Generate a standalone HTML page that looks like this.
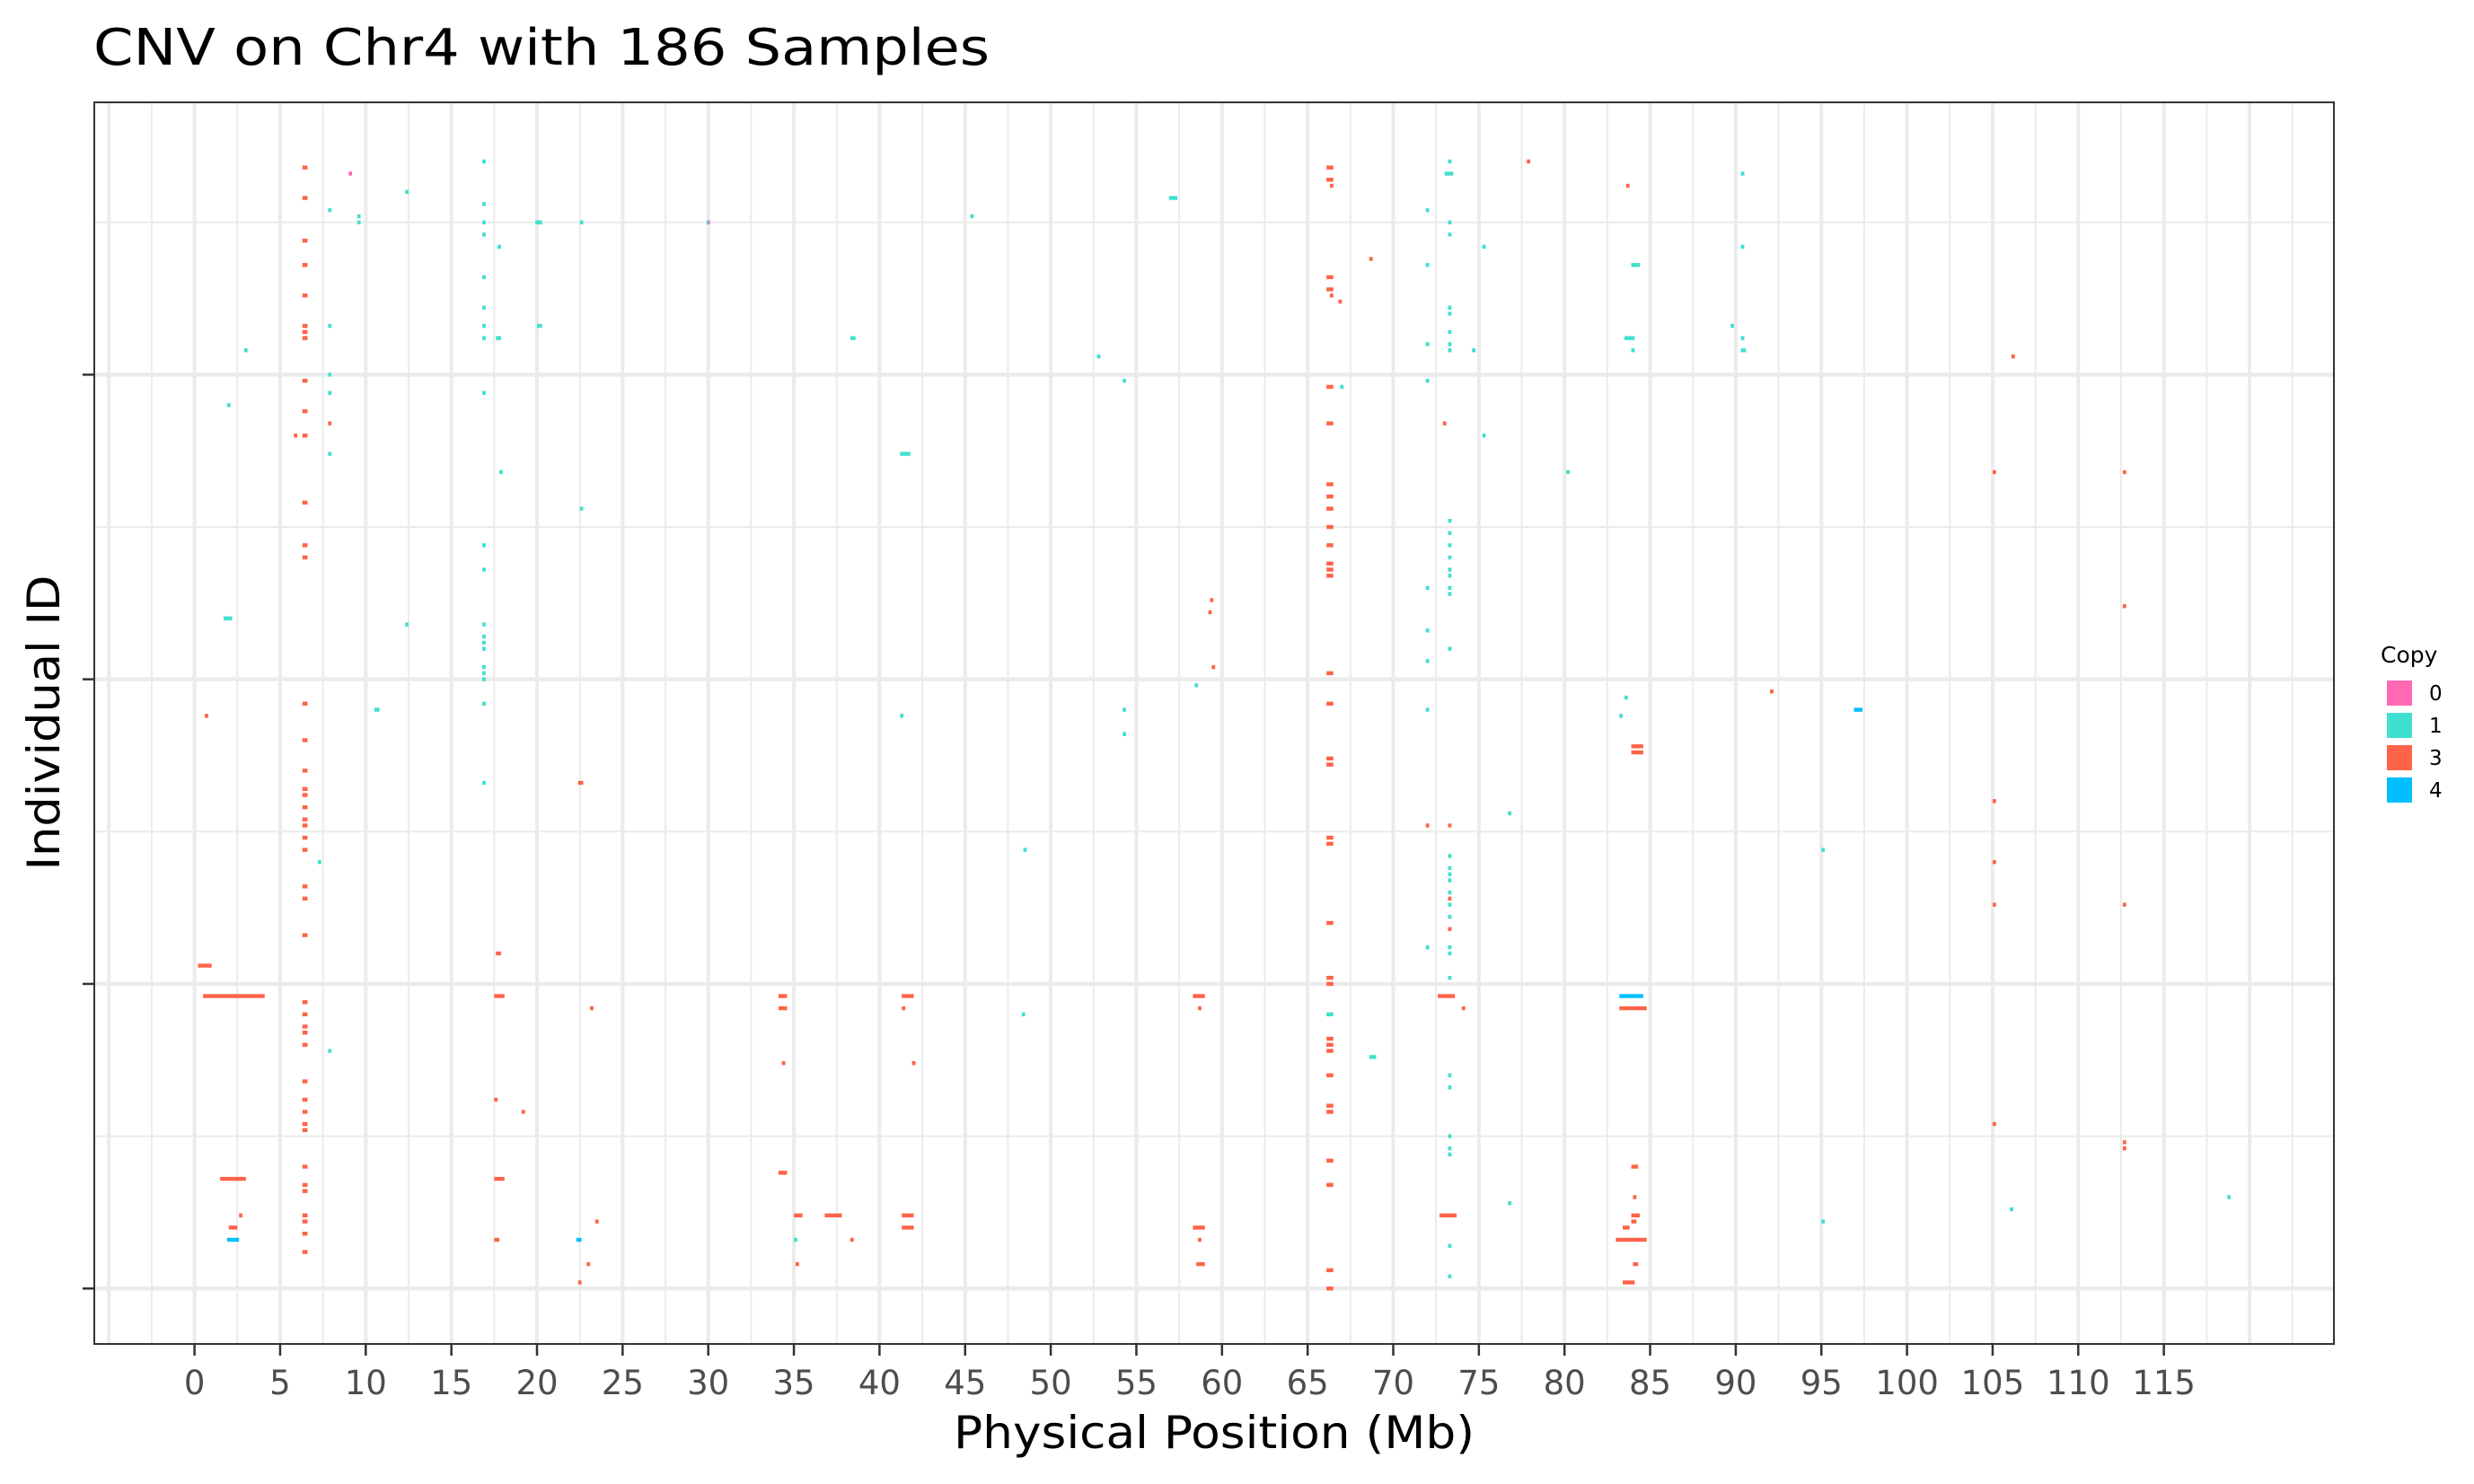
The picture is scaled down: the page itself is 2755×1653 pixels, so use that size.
<!DOCTYPE html>
<html><head><meta charset="utf-8"><title>CNV on Chr4</title>
<style>html,body{margin:0;padding:0;background:#fff;}svg{display:block;font-family:"DejaVu Sans","Liberation Sans",sans-serif;}</style>
</head><body>
<svg id="chart" width="2755" height="1653" viewBox="0 0 2755 1653" xmlns="http://www.w3.org/2000/svg">
<rect x="0" y="0" width="2755" height="1653" fill="#fff"/>
<text x="104" y="72" font-size="56" fill="#000" textLength="998" lengthAdjust="spacingAndGlyphs">CNV on Chr4 with 186 Samples</text>
<g id="grid"></g>
<g id="marks"></g>
<rect x="105" y="114" width="2494" height="1383" fill="none" stroke="#333" stroke-width="2"/>
<g id="axes"></g>
<text x="1352" y="1613" font-size="50" text-anchor="middle" fill="#000" textLength="580" lengthAdjust="spacingAndGlyphs">Physical Position (Mb)</text>
<text x="66" y="805" font-size="50" text-anchor="middle" fill="#000" textLength="329" lengthAdjust="spacingAndGlyphs" transform="rotate(-90 66 805)">Individual ID</text>
<g id="legend">
<text x="2651" y="738" font-size="25" fill="#000">Copy</text>
</g>
</svg>
<script>
const xTicks = [0,5,10,15,20,25,30,35,40,45,50,55,60,65,70,75,80,85,90,95,100,105,110,115];
const yTicks = [0,50,100,150];
const copyLevels = [0,1,3,4];
const copyLabels = ["0","1","3","4"];
// [start Mb, end Mb, individual id, copy]
const cnvSegments = [
[6.3,6.6,184,3],[6.3,6.6,179,3],[6.3,6.6,172,3],[6.3,6.6,168,3],[6.3,6.6,163,3],[6.3,6.6,158,3],[6.3,6.6,157,3],[6.3,6.6,156,3],
[6.3,6.6,149,3],[6.3,6.6,144,3],[6.3,6.6,140,3],[6.3,6.6,129,3],[6.3,6.6,122,3],[6.3,6.6,120,3],[6.3,6.6,96,3],[6.3,6.6,90,3],
[6.3,6.6,85,3],[6.3,6.6,82,3],[6.3,6.6,81,3],[6.3,6.6,79,3],[6.3,6.6,77,3],[6.3,6.6,76,3],[6.3,6.6,74,3],[6.3,6.6,72,3],
[6.3,6.6,66,3],[6.3,6.6,64,3],[6.3,6.6,58,3],[6.3,6.6,47,3],[6.3,6.6,45,3],[6.3,6.6,43,3],[6.3,6.6,42,3],[6.3,6.6,40,3],
[6.3,6.6,34,3],[6.3,6.6,31,3],[6.3,6.6,29,3],[6.3,6.6,27,3],[6.3,6.6,26,3],[6.3,6.6,20,3],[6.3,6.6,17,3],[6.3,6.6,16,3],
[6.3,6.6,12,3],[6.3,6.6,11,3],[6.3,6.6,9,3],[6.3,6.6,6,3],
[66.1,66.5,184,3],[66.1,66.5,182,3],[66.3,66.5,181,3],[66.1,66.5,166,3],[66.1,66.5,164,3],[66.3,66.5,163,3],[66.1,66.5,148,3],[66.1,66.5,142,3],
[66.1,66.5,132,3],[66.1,66.5,130,3],[66.1,66.5,128,3],[66.1,66.5,125,3],[66.1,66.5,122,3],[66.1,66.5,119,3],[66.1,66.5,118,3],[66.1,66.5,117,3],
[66.1,66.5,101,3],[66.1,66.5,96,3],[66.1,66.5,87,3],[66.1,66.5,86,3],[66.1,66.5,74,3],[66.1,66.5,73,3],[66.1,66.5,60,3],[66.1,66.5,51,3],
[66.1,66.5,50,3],[66.1,66.5,45,1],[66.1,66.5,41,3],[66.1,66.5,40,3],[66.1,66.5,39,3],[66.1,66.5,35,3],[66.1,66.5,30,3],[66.1,66.5,29,3],
[66.1,66.5,21,3],[66.1,66.5,17,3],[66.1,66.5,3,3],[66.1,66.5,0,3],
[16.8,17.0,185,1],[16.8,17.0,178,1],[16.8,17.0,175,1],[16.8,17.0,173,1],[16.8,17.0,166,1],[16.8,17.0,161,1],[16.8,17.0,158,1],[16.8,17.0,156,1],
[16.8,17.0,147,1],[16.8,17.0,122,1],[16.8,17.0,118,1],[16.8,17.0,109,1],[16.8,17.0,107,1],[16.8,17.0,106,1],[16.8,17.0,105,1],[16.8,17.0,102,1],
[16.8,17.0,101,1],[16.8,17.0,100,1],[16.8,17.0,96,1],[16.8,17.0,83,1],
[73.2,73.4,185,1],[73.0,73.5,183,1],[73.2,73.4,175,1],[73.2,73.4,173,1],[73.2,73.4,161,1],[73.2,73.4,160,1],[73.2,73.4,157,1],[73.2,73.4,155,1],
[73.2,73.4,154,1],[73.2,73.4,126,1],[73.2,73.4,124,1],[73.2,73.4,122,1],[73.2,73.4,120,1],[73.2,73.4,118,1],[73.2,73.4,117,1],[73.2,73.4,115,1],
[73.2,73.4,114,1],[73.2,73.4,105,1],[73.2,73.4,76,3],[73.2,73.4,71,1],[73.2,73.4,69,1],[73.2,73.4,68,1],[73.2,73.4,67,1],[73.2,73.4,65,1],
[73.2,73.4,64,3],[73.2,73.4,63,1],[73.2,73.4,61,1],[73.2,73.4,59,3],[73.2,73.4,56,1],[73.2,73.4,55,1],[73.2,73.4,51,1],[73.2,73.4,35,1],
[73.2,73.4,33,1],[73.2,73.4,25,1],[73.2,73.4,23,1],[73.2,73.4,22,1],[73.2,73.4,7,1],[73.2,73.4,2,1],
[71.9,72.1,177,1],[71.9,72.1,168,1],[71.9,72.1,155,1],[71.9,72.1,149,1],[71.9,72.1,115,1],[71.9,72.1,108,1],[71.9,72.1,103,1],[71.9,72.1,95,1],[71.9,72.1,56,1],[71.9,72.1,76,3],
[83.9,84.4,168,1],[83.5,84.1,156,1],[83.9,84.1,154,1],[83.6,83.8,181,3],[83.5,83.7,97,1],[83.2,83.4,94,1],[83.9,84.6,89,3],[83.9,84.6,88,3],
[83.9,84.3,20,3],[83.9,84.4,12,3],[83.9,84.2,11,3],[84.0,84.3,4,3],[83.4,84.1,1,3],[83.0,84.8,8,3],[83.4,83.8,10,3],[84.0,84.2,15,3],
[0.2,1.0,53,3],[0.5,4.1,48,3],[1.5,3.0,18,3],[2.0,2.5,10,3],[1.9,2.6,8,4],[2.6,2.8,12,3],[0.6,0.8,94,3],
[17.6,17.9,55,3],[17.5,18.1,48,3],[17.5,17.7,31,3],[17.5,18.1,18,3],[17.5,17.8,8,3],[19.1,19.3,29,3],
[22.4,22.7,83,3],[23.1,23.3,46,3],[22.4,22.6,1,3],[22.9,23.1,4,3],[23.4,23.6,11,3],[22.3,22.6,8,4],
[34.1,34.6,48,3],[34.1,34.6,46,3],[34.3,34.5,37,3],[34.1,34.6,19,3],[35.0,35.5,12,3],[35.1,35.3,4,3],[35.0,35.2,8,1],
[36.8,37.8,12,3],[38.3,38.5,8,3],
[41.3,42.0,48,3],[41.3,41.5,46,3],[41.9,42.1,37,3],[41.3,42.0,12,3],[41.3,42.0,10,3],
[58.3,59.0,48,3],[58.6,58.8,46,3],[58.3,59.0,10,3],[58.6,58.8,8,3],[58.5,59.0,4,3],[59.3,59.5,113,3],[59.2,59.4,111,3],[59.4,59.6,102,3],
[72.6,73.6,48,3],[74.0,74.2,46,3],[72.7,73.7,12,3],
[83.2,84.6,48,4],[83.2,84.8,46,3],
[105.0,105.2,134,3],[105.0,105.2,80,3],[105.0,105.2,70,3],[105.0,105.2,63,3],[105.0,105.2,27,3],
[112.6,112.8,134,3],[112.6,112.8,112,3],[112.6,112.8,63,3],[112.6,112.8,24,3],[112.6,112.8,23,3],
[106.1,106.3,153,3],[77.8,78.0,185,3],[92.0,92.2,98,3],[96.9,97.4,95,4],
[118.7,118.9,15,1],[95.0,95.2,72,1],[95.0,95.2,11,1],[106.0,106.2,13,1],
[41.2,41.8,137,1],[38.3,38.6,156,1],[56.9,57.4,179,1],[52.7,52.9,153,1],[54.2,54.4,149,1],[1.9,2.1,145,1],[1.7,2.2,110,1],[12.3,12.5,109,1],
[2.9,3.1,154,1],[19.9,20.3,175,1],[20.0,20.3,158,1],[17.8,18.0,134,1],[17.7,17.9,171,1],[17.6,17.9,156,1],[22.5,22.7,128,1],[22.5,22.7,175,1],
[9.5,9.7,175,1],[9.5,9.7,176,1],[12.3,12.5,180,1],[29.9,30.1,175,1],[45.3,45.5,176,1],[48.4,48.6,72,1],[48.3,48.5,45,1],[68.6,69.0,38,1],
[76.7,76.9,78,1],[76.7,76.9,14,1],[7.8,8.0,177,1],[7.8,8.0,158,1],[7.8,8.0,150,1],[7.8,8.0,147,1],[7.8,8.0,137,1],[10.5,10.8,95,1],
[7.2,7.4,70,1],[7.8,8.0,39,1],[41.2,41.4,94,1],[58.4,58.6,99,1],[54.2,54.4,95,1],[54.2,54.4,91,1],[80.1,80.3,134,1],
[90.3,90.5,183,1],[90.3,90.5,171,1],[90.3,90.5,156,1],[90.3,90.6,154,1],[89.7,89.9,158,1],[74.6,74.8,154,1],[75.2,75.4,171,1],[75.2,75.4,140,1],
[68.6,68.8,169,3],[66.9,67.1,148,1],[66.8,67.0,162,3],[7.8,8.0,142,3],[5.8,6.0,140,3],[9.0,9.2,183,0],[30.0,30.1,175,0],[72.9,73.1,142,3]
];

const NS = "http://www.w3.org/2000/svg";
const PL = 105, PR = 2599, PT = 114, PB = 1497;
const X0 = 216.6, XPX = 19.07;
const YDOM0 = -9.1, YDOM1 = 194.7;
function xs(v){ return X0 + v * XPX; }
function ys(v){ return PB - (v - YDOM0) / (YDOM1 - YDOM0) * (PB - PT); }
function colorFor(c){ return c === 0 ? "#FF69B4" : c === 1 ? "#40E0D0" : c === 3 ? "#FF6347" : "#00BFFF"; }
function mk(tag, attrs){ const e = document.createElementNS(NS, tag); for (const k in attrs) e.setAttribute(k, attrs[k]); return e; }

const grid = document.getElementById("grid");
for (let v = -2.5; v <= 122.5; v += 5) {
  const x = xs(v); if (x < PL || x > PR) continue;
  const l = mk("line", {x1:x, x2:x, y1:PT, y2:PB, stroke:"#ebebeb", "stroke-width":2});
  
  
  grid.appendChild(l);
}
for (let v = -5; v <= 120; v += 5) {
  const x = xs(v); if (x < PL || x > PR) continue;
  const l = mk("line", {x1:x, x2:x, y1:PT, y2:PB, stroke:"#ebebeb", "stroke-width":4});
  
  
  grid.appendChild(l);
}
for (let v = 25; v <= 175; v += 50) {
  const y = ys(v);
  const l = mk("line", {x1:PL, x2:PR, y1:y, y2:y, stroke:"#ebebeb", "stroke-width":2});
  
  
  grid.appendChild(l);
}
yTicks.forEach(v => {
  const y = ys(v);
  const l = mk("line", {x1:PL, x2:PR, y1:y, y2:y, stroke:"#ebebeb", "stroke-width":4.5});
  
  
  grid.appendChild(l);
});

const marks = document.getElementById("marks");
cnvSegments.forEach(s => {
  const x1 = xs(s[0]), x2 = xs(s[1]);
  const yc = ys(s[2]);
  const r = mk("rect", {x:x1, y:yc - 2.2, width:Math.max(2, x2 - x1), height:4.4, fill:colorFor(s[3])});
  
  
  marks.appendChild(r);
});

const axes = document.getElementById("axes");
xTicks.forEach(v => {
  const x = xs(v);
  const t = mk("line", {x1:x, x2:x, y1:PB, y2:PB + 13, stroke:"#333", "stroke-width":2.5});
  
  
  axes.appendChild(t);
  const lb = mk("text", {x:x, y:PB + 56, "font-size":37, "text-anchor":"middle", fill:"#4d4d4d"});
  lb.textContent = String(v);
  
  
  axes.appendChild(lb);
});
yTicks.forEach(v => {
  const y = ys(v);
  const t = mk("line", {x1:PL - 13, x2:PL, y1:y, y2:y, stroke:"#333", "stroke-width":2.5});
  
  
  axes.appendChild(t);
});

const legend = document.getElementById("legend");
copyLevels.forEach((c, i) => {
  const y = 758 + i * 36;
  const k = mk("rect", {x:2658, y:y, width:28, height:28, fill:colorFor(c)});
  
  
  legend.appendChild(k);
  const t = mk("text", {x:2705, y:y + 22, "font-size":23, fill:"#000"});
  t.textContent = copyLabels[i];
  
  
  legend.appendChild(t);
});
</script>
</body></html>
